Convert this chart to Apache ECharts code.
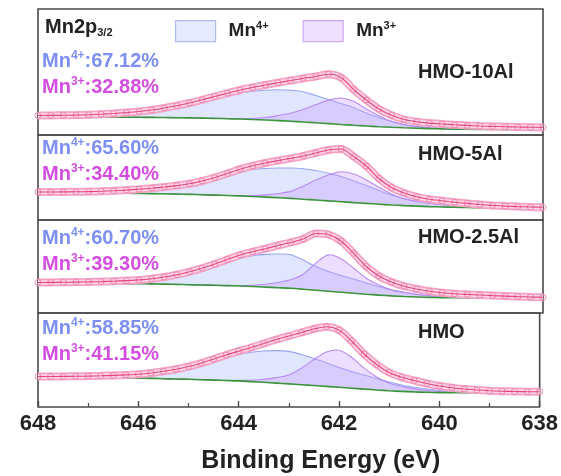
<!DOCTYPE html>
<html>
<head>
<meta charset="utf-8">
<script src="https://cdn.jsdelivr.net/npm/echarts@6/dist/echarts.min.js"></script>
<style>
  html, body { margin: 0; padding: 0; background: #fff; }
  #chart { width: 561px; height: 476px; }
</style>
</head>
<body>
<div id="chart"></div>
<script>
// Binding energy grid (eV), shared by every curve
const energy = [648, 647.75, 647.5, 647.25, 647, 646.75, 646.5, 646.25, 646, 645.75, 645.5, 645.25, 645, 644.75, 644.5, 644.25, 644, 643.75, 643.5, 643.25, 643, 642.75, 642.5, 642.25, 642, 641.75, 641.5, 641.25, 641, 640.75, 640.5, 640.25, 640, 639.75, 639.5, 639.25, 639, 638.75, 638.5, 638.25, 638];

const xTicks = [648, 646, 644, 642, 640, 638];

const samples = ['HMO-10Al', 'HMO-5Al', 'HMO-2.5Al', 'HMO'];
const mn4Share = ['67.12%', '65.60%', '60.70%', '58.85%'];
const mn3Share = ['32.88%', '34.40%', '39.30%', '41.15%'];

// Intensities (a.u.), one set per sample
const bgHMO10Al = [18.0,18.0,18.0,18.0,18.0,17.9,17.9,17.8,17.7,17.6,17.5,17.3,17.1,16.9,16.6,16.3,16.0,15.5,15.0,14.4,13.8,13.0,12.2,11.4,10.5,9.7,9.0,8.3,7.7,7.2,6.8,6.4,6.1,5.9,5.7,5.6,5.5,5.5,5.5,5.5,5.5];
const rawHMO10Al = [19.5,19.6,19.7,19.9,20.2,20.8,21.5,22.4,23.5,25.0,27.0,29.3,32.0,35.2,38.5,41.8,45.0,47.6,50.0,52.3,54.5,56.6,58.5,60.8,57.5,45.5,35.0,26.0,19.8,15.5,13.3,11.9,11.0,10.2,9.6,9.0,8.6,8.3,8.0,7.8,7.6];
const mn4HMO10Al = [19.0,19.1,19.2,19.5,19.9,20.5,21.2,22.1,23.2,24.7,26.6,28.8,31.3,34.2,37.2,40.0,42.2,43.8,44.8,45.2,44.8,43.3,39.5,35.5,31.5,27.5,22.0,17.5,13.5,10.5,8.6,7.4,6.7,6.3,6.0,5.8,5.7,5.6,5.6,5.5,5.5];
const mn3HMO10Al = [18.0,18.0,18.0,18.0,18.0,17.9,17.9,17.8,17.7,17.6,17.5,17.3,17.1,16.9,16.7,16.5,16.3,16.5,17.5,19.4,21.8,25.5,30.2,34.9,37.0,33.7,26.0,19.3,13.7,10.2,8.3,7.0,6.3,5.9,5.7,5.6,5.5,5.5,5.5,5.5,5.5];

const bgHMO5Al = [27.0,27.0,27.0,27.0,27.0,26.9,26.8,26.7,26.6,26.4,26.2,25.9,25.6,25.3,24.9,24.5,24.1,23.5,22.9,22.3,21.6,20.8,20.0,19.1,18.3,17.4,16.6,15.8,15.0,14.4,13.9,13.4,13.0,12.7,12.5,12.3,12.2,12.1,12.0,12.0,12.0];
const rawHMO5Al = [28.0,28.0,28.1,28.2,28.4,28.7,29.2,29.9,30.8,31.8,33.0,34.4,36.2,39.0,42.5,46.5,50.8,54.2,57.0,59.4,61.6,64.0,67.0,70.0,71.0,63.5,54.0,41.5,32.5,27.0,23.2,20.8,19.3,17.8,16.6,15.5,14.6,13.9,13.4,13.0,12.7];
const mn4HMO5Al = [27.8,27.8,27.9,28.0,28.2,28.5,29.0,29.6,30.5,31.5,32.7,34.0,35.8,38.6,42.0,45.8,48.5,50.5,51.5,52.0,52.0,51.3,49.5,46.8,43.5,39.0,34.5,29.5,25.0,21.5,18.8,16.8,15.3,14.2,13.4,12.9,12.5,12.3,12.1,12.0,12.0];
const mn3HMO5Al = [27.0,27.0,27.0,27.0,27.0,26.9,26.8,26.7,26.6,26.4,26.2,25.9,25.6,25.3,24.9,24.5,24.4,24.4,25.1,26.5,28.6,33.8,40.0,45.1,48.3,45.9,40.1,32.8,26.0,21.2,18.7,16.7,15.2,14.1,13.3,12.7,12.4,12.1,12.0,12.0,12.0];

const bgHMO25Al = [29.7,29.7,29.7,29.7,29.6,29.6,29.5,29.4,29.3,29.1,28.9,28.6,28.3,28.0,27.7,27.4,27.0,26.5,25.9,25.3,24.7,23.8,22.8,21.8,20.8,19.8,18.8,17.9,17.1,16.5,16.0,15.6,15.4,15.3,15.2,15.2,15.2,15.2,15.2,15.2,15.2];
const rawHMO25Al = [30.5,30.6,30.7,30.9,31.1,31.4,31.8,32.4,33.1,34.3,36.0,38.3,41.3,44.8,49.0,53.5,58.0,61.3,64.3,67.5,70.5,74.0,79.5,78.5,72.0,59.7,46.5,37.0,31.0,26.8,24.0,21.8,20.3,19.3,18.6,18.0,17.4,16.9,16.4,16.0,15.7];
const mn4HMO25Al = [30.3,30.4,30.5,30.7,30.9,31.2,31.6,32.2,32.9,34.1,35.7,37.9,40.7,44.0,47.8,51.6,54.8,57.2,58.6,59.0,58.2,53.0,46.5,41.5,37.5,34.0,30.0,26.5,23.0,20.5,18.5,17.2,16.4,15.9,15.6,15.4,15.3,15.2,15.2,15.2,15.2];
const mn3HMO25Al = [29.7,29.7,29.7,29.7,29.6,29.6,29.5,29.4,29.3,29.1,28.9,28.6,28.3,28.0,27.7,27.4,27.5,27.7,28.7,30.5,33.2,38.8,49.8,58.1,54.3,44.8,34.8,27.9,23.1,20.7,18.8,17.4,16.5,15.9,15.5,15.3,15.2,15.2,15.2,15.2,15.2];

const bgHMO = [29.5,29.5,29.5,29.4,29.3,29.2,29.1,29.0,28.8,28.6,28.3,28.0,27.7,27.3,26.9,26.5,26.1,25.4,24.7,23.9,23.1,22.3,21.5,20.6,19.7,18.8,17.9,17.0,16.2,15.6,15.1,14.7,14.4,14.3,14.2,14.2,14.2,14.2,14.2,14.2,14.2];
const rawHMO = [30.5,30.5,30.6,30.7,30.9,31.2,31.6,32.1,32.8,34.0,35.7,37.8,40.5,43.8,47.8,52.0,55.8,59.5,63.5,67.5,71.0,74.5,78.0,80.3,77.0,66.0,53.0,42.5,34.5,29.8,26.5,23.5,21.0,19.3,18.0,17.0,16.3,15.8,15.5,15.3,15.2];
const mn4HMO = [30.2,30.2,30.3,30.4,30.6,30.9,31.3,31.8,32.5,33.6,35.2,37.2,39.8,42.8,46.3,49.8,52.7,54.8,56.0,56.4,55.6,52.5,48.5,44.3,39.5,35.5,32.0,28.5,25.0,22.0,19.8,18.0,16.7,15.7,15.1,14.7,14.5,14.3,14.2,14.2,14.2];
const mn3HMO = [29.5,29.5,29.5,29.4,29.3,29.2,29.1,29.0,28.8,28.6,28.3,28.0,27.7,27.3,26.9,26.5,26.6,26.7,27.7,29.4,32.1,38.8,47.5,55.1,56.7,49.8,38.9,30.0,23.7,20.6,18.1,16.5,15.4,14.8,14.4,14.2,14.2,14.2,14.2,14.2,14.2];

const panelData = [
  { bg: bgHMO10Al, raw: rawHMO10Al, mn4: mn4HMO10Al, mn3: mn3HMO10Al },
  { bg: bgHMO5Al, raw: rawHMO5Al, mn4: mn4HMO5Al, mn3: mn3HMO5Al },
  { bg: bgHMO25Al, raw: rawHMO25Al, mn4: mn4HMO25Al, mn3: mn3HMO25Al },
  { bg: bgHMO, raw: rawHMO, mn4: mn4HMO, mn3: mn3HMO }
];

// Panel layout (px)
const panelBox = [
  { top: 9, height: 126 },
  { top: 135, height: 85 },
  { top: 220, height: 93 },
  { top: 313, height: 94 }
];

const FONT = 'Liberation Sans, Arial, Helvetica, sans-serif';
const C_MN4 = '#7d8ff2';
const C_MN3 = '#d34ee0';
const SMOOTH = 0.3;

const pairs = arr => arr.map((v, i) => [energy[i], v]);

// Fitted component: filled band between the background and the component curve
function componentSeries(k, name, bg, peak, stroke, fill) {
  return {
    type: 'custom', name: name, xAxisIndex: k, yAxisIndex: k, silent: true, z: 2,
    data: energy.map((e, i) => [e, bg[i], peak[i]]),
    encode: { x: 0, y: [1, 2] },
    renderItem: function (params, api) {
      if (params.dataIndex !== 0) return null;
      const n = params.dataInsideLength || energy.length;
      const upper = [], lower = [];
      for (let j = 0; j < n; j++) {
        upper.push(api.coord([api.value(0, j), api.value(2, j)]));
        lower.push(api.coord([api.value(0, j), api.value(1, j)]));
      }
      return {
        type: 'group',
        children: [
          { type: 'polygon', shape: { points: upper.concat(lower.slice().reverse()), smooth: SMOOTH },
            style: { fill: fill, stroke: null } },
          { type: 'polyline', shape: { points: upper, smooth: SMOOTH },
            style: { fill: null, stroke: stroke, lineWidth: 1.1 } }
        ]
      };
    }
  };
}

const grids = [], xAxes = [], yAxes = [], series = [];

panelBox.forEach((p, k) => {
  const last = k === panelBox.length - 1;
  grids.push({
    left: 38, right: 18, top: p.top, height: p.height,
    show: true, borderColor: '#4a4a4a', borderWidth: 1.6, backgroundColor: 'transparent'
  });
  xAxes.push({
    type: 'value', gridIndex: k, min: 638, max: 648, interval: 2, inverse: true,
    axisLine: { show: false },
    splitLine: { show: false },
    axisTick: { show: last, inside: true, length: 6, lineStyle: { color: '#4a4a4a', width: 1.4 } },
    minorTick: { show: last, splitNumber: 2, length: 4, lineStyle: { color: '#4a4a4a', width: 1.2 } },
    axisLabel: {
      show: last, margin: 6, color: '#222', fontSize: 22, fontWeight: 'bold', fontFamily: FONT,
      formatter: v => (xTicks.indexOf(v) >= 0 ? String(v) : '')
    },
    name: last ? 'Binding Energy (eV)' : '',
    nameLocation: 'middle', nameGap: 42,
    nameTextStyle: { color: '#222', fontSize: 25, fontWeight: 'bold', fontFamily: FONT, padding: [0, 0, 0, 64] }
  });
  yAxes.push({
    type: 'value', gridIndex: k, min: 0, max: p.height, show: false,
    splitLine: { show: false }
  });

  const d = panelData[k];
  const common = { type: 'line', xAxisIndex: k, yAxisIndex: k, symbol: 'none', silent: true, animation: false, smooth: SMOOTH };

  series.push(componentSeries(k, 'Mn4+', d.bg, d.mn4, '#95a5f3', 'rgba(150,172,250,0.30)'));
  series.push(componentSeries(k, 'Mn3+', d.bg, d.mn3, '#b98af2', 'rgba(200,150,255,0.32)'));
  // Shirley background
  series.push(Object.assign({}, common, {
    data: pairs(d.bg), lineStyle: { color: '#3a953a', width: 1.6 }, z: 3
  }));
  // Measured spectrum (open circles on a soft band) and fitted envelope
  series.push(Object.assign({}, common, {
    data: pairs(d.raw), lineStyle: { color: '#f4a3c6', width: 8 }, z: 4
  }));
  series.push(Object.assign({}, common, {
    data: pairs(d.raw), lineStyle: { color: '#fcd6e6', width: 4.5 }, z: 4,
    symbol: 'circle', symbolSize: 6, showSymbol: true,
    itemStyle: { color: 'rgba(255,255,255,0)', borderColor: '#ef86b2', borderWidth: 1 }
  }));
  series.push(Object.assign({}, common, {
    data: pairs(d.raw), lineStyle: { color: '#e3467f', width: 1.1 }, z: 5
  }));
});

// Text annotations
const richMain = (color, size, subSize) => ({
  a: { color: color, fontSize: size, fontWeight: 'bold', fontFamily: FONT, lineHeight: 22 },
  s: { color: color, fontSize: subSize, fontWeight: 'bold', fontFamily: FONT, verticalAlign: 'top', lineHeight: 12 },
  b: { color: color, fontSize: subSize, fontWeight: 'bold', fontFamily: FONT, verticalAlign: 'bottom', lineHeight: 12 }
});

const titles = [{
  left: 45, top: 16, padding: 0,
  text: '{a|Mn2p}{b|3/2}',
  textStyle: { rich: richMain('#222', 20, 11) }
}];
const shareTops = [[50, 76], [137, 163], [227, 253], [317, 343]];
const labelTops = [62, 144, 227, 322];
panelBox.forEach((p, k) => {
  titles.push({
    left: 42, top: shareTops[k][0], padding: 0,
    text: '{a|Mn}{s|4+}{a|:' + mn4Share[k] + '}',
    textStyle: { rich: richMain(C_MN4, 20, 12) }
  });
  titles.push({
    left: 42, top: shareTops[k][1], padding: 0,
    text: '{a|Mn}{s|3+}{a|:' + mn3Share[k] + '}',
    textStyle: { rich: richMain(C_MN3, 20, 12) }
  });
  titles.push({
    left: 418, top: labelTops[k], padding: 0,
    text: samples[k],
    textStyle: { color: '#222', fontSize: 20, fontWeight: 'bold', fontFamily: FONT }
  });
});

const legendRich = {
  a: { color: '#222', fontSize: 19, fontWeight: 'bold', fontFamily: FONT, lineHeight: 21, padding: [0, 0, 0, 8] },
  s: { color: '#222', fontSize: 11, fontWeight: 'bold', fontFamily: FONT, verticalAlign: 'top', lineHeight: 11 }
};

const chart = echarts.init(document.getElementById('chart'), null, { renderer: 'canvas' });
chart.setOption({
  animation: false,
  backgroundColor: '#fff',
  grid: grids,
  xAxis: xAxes,
  yAxis: yAxes,
  title: titles,
  legend: {
    left: 175, top: 20, padding: 0, itemWidth: 40, itemHeight: 21, itemGap: 34,
    selectedMode: false,
    data: [
      { name: 'Mn4+', icon: 'rect', itemStyle: { color: '#e6eaff', borderColor: '#aebbf0', borderWidth: 1.2 } },
      { name: 'Mn3+', icon: 'rect', itemStyle: { color: '#f0e0ff', borderColor: '#cfa7ef', borderWidth: 1.2 } }
    ],
    formatter: name => '{a|Mn}{s|' + name.slice(2) + '}',
    textStyle: { rich: legendRich }
  },
  series: series
});
</script>
</body>
</html>
